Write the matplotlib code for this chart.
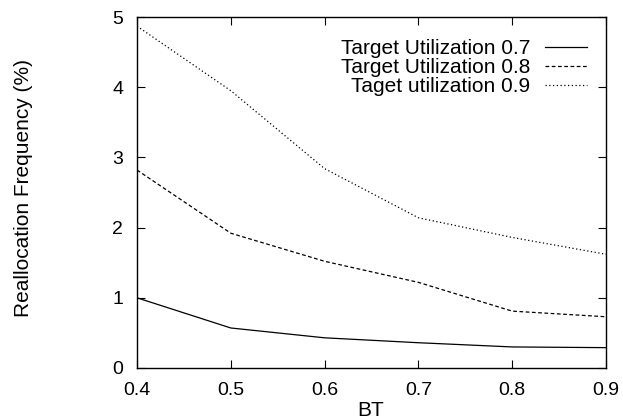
import matplotlib
matplotlib.use("Agg")
import matplotlib.pyplot as plt

plt.rcParams['font.family'] = ['Liberation Sans', 'DejaVu Sans']

bt = [0.4, 0.5, 0.6, 0.7, 0.8, 0.9]
util_07 = [1.00, 0.57, 0.43, 0.36, 0.30, 0.29]
util_08 = [2.82, 1.92, 1.52, 1.22, 0.81, 0.73]
util_09 = [4.87, 3.95, 2.84, 2.14, 1.86, 1.62]
labels = ["Target Utilization 0.7", "Target Utilization 0.8", "Taget utilization 0.9"]
xticks = [0.4, 0.5, 0.6, 0.7, 0.8, 0.9]
yticks = [0, 1, 2, 3, 4, 5]

fig = plt.figure(figsize=(6.23, 4.2), dpi=100)
L, R, T, B = 137, 606, 17, 368
ax = fig.add_axes([L/623, 1 - B/420, (R-L)/623, (B-T)/420])

ax.plot(bt, util_07, color='black', lw=0.9, ls='-', label=labels[0])
ax.plot(bt, util_08, color='black', lw=0.9, ls=(0, (3, 2)), label=labels[1])
ax.plot(bt, util_09, color='black', lw=0.9, ls=(0, (1, 2)), label=labels[2])

ax.set_xlim(0.4, 0.9)
ax.set_ylim(0, 5)
ax.set_xticks(xticks)
ax.set_xticklabels([f"{v:g}" for v in xticks])
ax.set_yticks(yticks)
ax.tick_params(direction='in', top=True, right=True, length=6, width=0.8,
               labelsize=14)
ax.tick_params(axis='x', pad=10)
ax.tick_params(axis='y', pad=10)
for s in ax.spines.values():
    s.set_linewidth(1.0)

xl = ax.set_xlabel("BT", fontsize=15)
ax.xaxis.set_label_coords((371 - L)/(R - L), (B - 410)/(B - T))
xl.set_va('center')
yl = ax.set_ylabel("Reallocation Frequency (%)", fontsize=15)
ax.yaxis.set_label_coords((24 - L)/(R - L), (B - 188)/(B - T))
yl.set_va('center')

leg = ax.legend(loc='upper right', bbox_to_anchor=((587 - L)/(R - L), (B - 39)/(B - T)),
                frameon=False, markerfirst=False,
                fontsize=15, handlelength=2.0, labelspacing=0.0,
                borderaxespad=0.0, borderpad=0.0, handletextpad=0.72)
for t in leg.get_texts():
    t.set_ha('right')

fig.savefig("out.png", dpi=100)
